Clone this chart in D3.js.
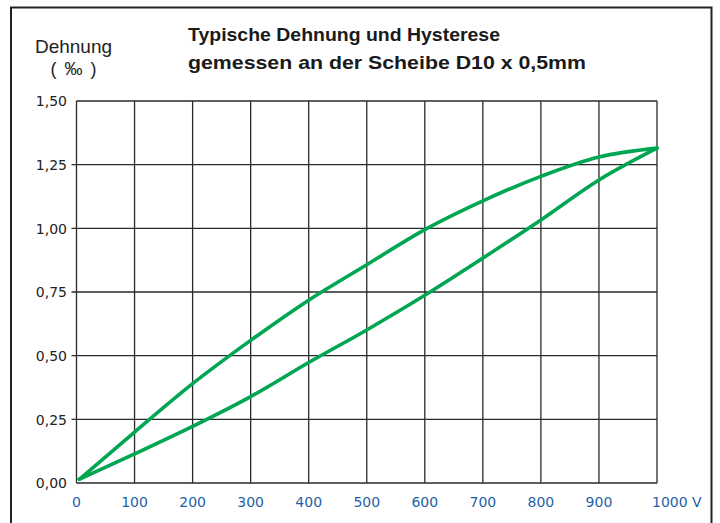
<!DOCTYPE html>
<html><head><meta charset="utf-8">
<script src="https://cdn.jsdelivr.net/npm/d3@7"></script>
<style>body{margin:0;background:#fff}svg{display:block}</style>
</head><body>
<svg id="c" width="720" height="523"></svg>
<script>
const titleLines = ["Typische Dehnung und Hysterese", "gemessen an der Scheibe D10 x 0,5mm"];
const yTitle = ["Dehnung", "(‰)"];
const xTicks = [0,100,200,300,400,500,600,700,800,900,1000];
const xTickLabels = ["0","100","200","300","400","500","600","700","800","900","1000 V"];
const yTicks = [0,0.25,0.5,0.75,1.0,1.25,1.5];
const yTickLabels = ["0,00","0,25","0,50","0,75","1,00","1,25","1,50"];
const voltage = [5,100,200,300,400,500,600,700,800,900,1000];
const upperCurve = [0.015,0.20,0.39,0.56,0.718,0.857,0.995,1.108,1.204,1.28,1.315];
const lowerCurve = [0.015,0.114,0.222,0.339,0.473,0.601,0.737,0.883,1.033,1.19,1.315];

const svg = d3.select("#c");
const x = d3.scaleLinear().domain([0,1000]).range([76.5,657]);
const y = d3.scaleLinear().domain([0,1.5]).range([483,101]);
const font = "'Liberation Sans', Arial, sans-serif";
const tickFont = "'DejaVu Sans', sans-serif";

// outer frame
svg.append("path").attr("d","M11,530 V7.5 H711.5 V530").attr("fill","none").attr("stroke","#222").attr("stroke-width",2);

// grid
const g = svg.append("g");
g.selectAll(".vx").data(xTicks).join("line")
  .attr("x1",d=>x(d)).attr("x2",d=>x(d)).attr("y1",y(0)).attr("y2",y(1.5))
  .attr("stroke","#2a2a2a").attr("stroke-width",1.3);
g.selectAll(".hy").data(yTicks).join("line")
  .attr("x1",d=> (d>0 && d<1.5) ? x(0)-5 : x(0)).attr("x2",x(1000)).attr("y1",d=>y(d)).attr("y2",d=>y(d))
  .attr("stroke","#2a2a2a").attr("stroke-width",1.3);

// y labels
svg.selectAll(".yl").data(yTicks).join("text")
  .attr("x",67).attr("y",d=>y(d)).attr("dy","0.38em").attr("text-anchor","end")
  .attr("font-family",tickFont).attr("font-size",14).attr("fill","#222")
  .text((d,i)=>yTickLabels[i]);

// x labels
svg.selectAll(".xl").data(xTicks).join("text")
  .attr("x",(d,i)=> i===xTicks.length-1 ? x(d)-5 : x(d)).attr("y",507)
  .attr("text-anchor",(d,i)=> i===xTicks.length-1 ? "start" : "middle")
  .attr("font-family",tickFont).attr("font-size",14).attr("fill","#1f5fa6")
  .text((d,i)=>xTickLabels[i]);

// curves
const line = d3.line().x(d=>x(d[0])).y(d=>y(d[1])).curve(d3.curveMonotoneX);
[upperCurve, lowerCurve].forEach(vals=>{
  svg.append("path").datum(voltage.map((v,i)=>[v,vals[i]]))
    .attr("d",line).attr("fill","none").attr("stroke","#00a651")
    .attr("stroke-width",3.6).attr("stroke-linecap","round").attr("stroke-linejoin","round");
});

// titles
svg.append("text").attr("x",188).attr("y",40.5).attr("font-family",font).attr("font-weight","bold")
  .attr("font-size",19).attr("fill","#1a1a1a").attr("textLength",312).attr("lengthAdjust","spacingAndGlyphs").text(titleLines[0]);
svg.append("text").attr("x",188).attr("y",68.5).attr("font-family",font).attr("font-weight","bold")
  .attr("font-size",19).attr("fill","#1a1a1a").attr("textLength",398).attr("lengthAdjust","spacingAndGlyphs").text(titleLines[1]);

svg.append("text").attr("x",73.5).attr("y",53.3).attr("text-anchor","middle").attr("font-family",font)
  .attr("font-size",19).attr("fill","#222").text(yTitle[0]);
svg.append("text").attr("x",50.5).attr("y",75).attr("font-family",font)
  .attr("font-size",18).attr("fill","#222").attr("textLength",46).attr("lengthAdjust","spacing").text(yTitle[1]);
</script>
</body></html>
